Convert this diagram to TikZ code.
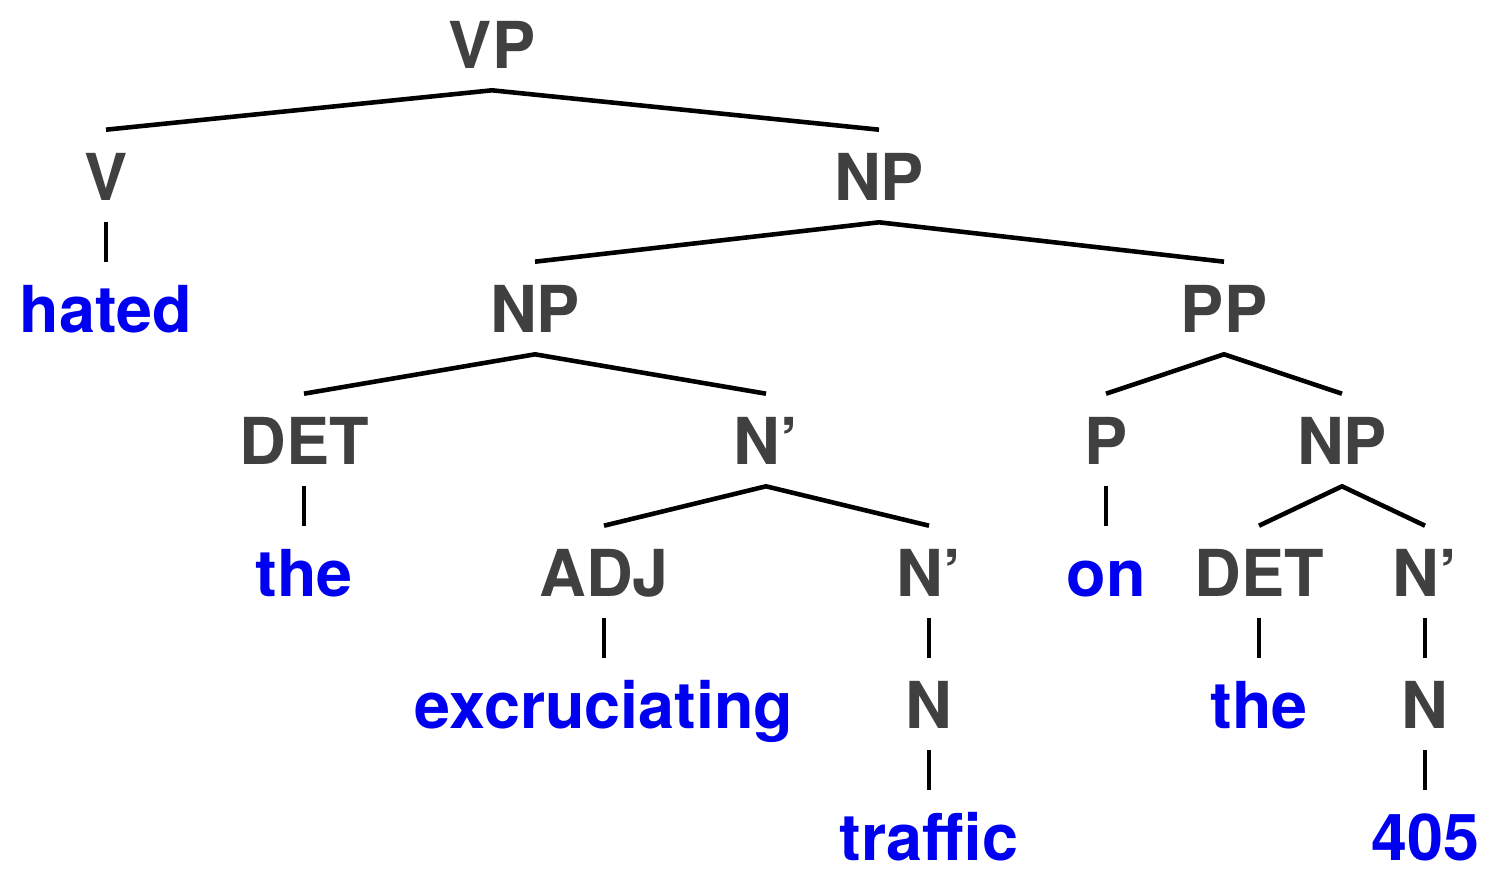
\documentclass[tikz,border=0pt]{standalone}
\usepackage{fontspec}
\setmainfont{TeX Gyre Heros}
\usepackage{tikz}
\definecolor{labelgray}{HTML}{404040}
\definecolor{wordblue}{HTML}{0000F0}

\begin{document}
\begin{tikzpicture}[x=0.01cm,y=-0.01cm,
    every node/.style={font=\fontsize{18.4}{18.4}\selectfont\bfseries,
      text height=0.48cm, text depth=0pt, inner xsep=0pt, inner ysep=0.2cm},
    cat/.style={text=labelgray},
    word/.style={text=wordblue},
    every path/.style={line width=1.3pt}]
      \useasboundingbox (0,0) rectangle (1500,879);

      \node[cat] (vp) at (492,44) {VP};

      \node[cat] (v) at (106,176) {V};   \node[cat] (np) at (879,176) {NP};

      \node[word] (hated) at (106,308) {hated};
      \node[cat] (np1) at (535,308) {NP}; \node[cat] (pp) at (1224,308) {PP};

      \node[cat] (det1) at (304,440) {DET}; \node[cat] (nbar1) at (766,440) {N’};
      \node[cat] (p) at (1106,440) {P};     \node[cat] (np2) at (1342,440) {NP};

      \node[word] (the1) at (304,572) {the};
      \node[cat] (adj) at (604,572) {ADJ}; \node[cat] (nbar2) at (929,572) {N’};
      \node[word] (on) at (1106,572) {on};
      \node[cat] (det2) at (1259,572) {DET}; \node[cat] (nbar3) at (1425,572) {N’};

      \node[word] (excr) at (604,704) {excruciating};
      \node[cat] (n1) at (929,704) {N};
      \node[word] (the2) at (1259,704) {the};
      \node[cat] (n2) at (1425,704) {N};

      \node[word] (traffic) at (929,836) {traffic};
      \node[word] (num) at (1425,836) {405};

      \draw (v.north) -- (vp.south) -- (np.north);
      \draw (v) -- (hated);

      \draw (np1.north) -- (np.south) -- (pp.north);
      \draw (det1.north) -- (np1.south) -- (nbar1.north);
      \draw (det1) -- (the1);
      \draw (adj.north) -- (nbar1.south) -- (nbar2.north);
      \draw (adj) -- (excr);
      \draw (nbar2) -- (n1);
      \draw (n1) -- (traffic);

      \draw (p.north) -- (pp.south) -- (np2.north);
      \draw (p) -- (on);
      \draw (det2.north) -- (np2.south) -- (nbar3.north);
      \draw (det2) -- (the2);
      \draw (nbar3) -- (n2);
      \draw (n2) -- (num);
    \end{tikzpicture}
\end{document}
